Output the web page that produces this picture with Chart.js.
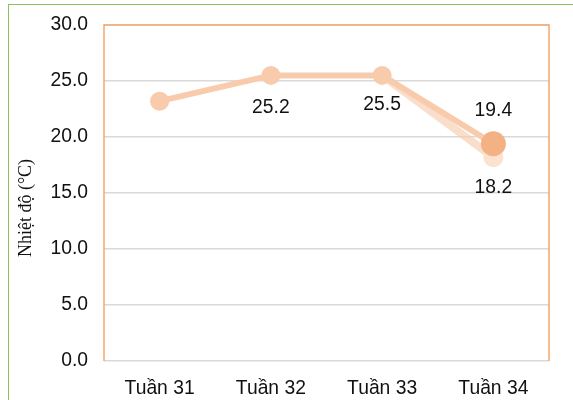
<!DOCTYPE html>
<html><head><meta charset="utf-8">
<script src="https://cdn.jsdelivr.net/npm/chart.js@4/dist/chart.umd.min.js"></script>
<style>
html,body{margin:0;padding:0;background:#fff;overflow:hidden;}
#frame{position:absolute;left:8px;top:4px;width:700px;height:500px;border-left:1.5px solid #8CC063;border-top:1.5px solid #8CC063;}
#wrap{position:absolute;left:0;top:0;width:573px;height:400px;}
</style></head>
<body>
<div id="frame"></div>
<div id="wrap"><canvas id="c" width="573" height="400"></canvas></div>
<script>
const categories = ['Tuần 31', 'Tuần 32', 'Tuần 33', 'Tuần 34'];
const seriesMain = [23.2, 25.5, 25.5, 19.4];
const seriesLow = [23.2, 25.2, 25.5, 18.2];
const yTitle = 'Nhiệt độ (°C)';

const labelPlugin = {
  id: 'labels',
  beforeDatasetsDraw(chart) {
    const {ctx, chartArea: a} = chart;
    ctx.save();
    ctx.strokeStyle = '#F5A66B';
    ctx.lineWidth = 1.5;
    ctx.beginPath();
    ctx.moveTo(a.left, a.bottom);
    ctx.lineTo(a.left, a.top);
    ctx.lineTo(a.right, a.top);
    ctx.lineTo(a.right, a.bottom);
    ctx.stroke();
    ctx.restore();
  },
  afterDatasetsDraw(chart) {
    const {ctx, chartArea: a} = chart;
    const xs = chart.scales.x, ys = chart.scales.y;
    const specs = [
      {data: seriesLow, i: 1, dy: 29},
      {data: seriesLow, i: 2, dy: 29.5},
      {data: seriesLow, i: 3, dy: 30.5},
      {data: seriesMain, i: 3, dy: -33}
    ];
    ctx.save();
    ctx.fillStyle = '#111';
    ctx.font = '19.3px "Liberation Sans", Arial, sans-serif';
    ctx.textAlign = 'center';
    ctx.textBaseline = 'middle';
    specs.forEach(s => {
      const x = xs.getPixelForValue(s.i);
      const y = ys.getPixelForValue(s.data[s.i]);
      ctx.fillText(s.data[s.i].toFixed(1), x, y + s.dy);
    });
    // axis title
    ctx.translate(26, (a.top + a.bottom) / 2 + 15);
    ctx.rotate(-Math.PI / 2);
    ctx.font = '18px "Liberation Serif", "Times New Roman", serif';
    ctx.fillText(yTitle, 0, 0);
    ctx.restore();
  }
};

new Chart(document.getElementById('c'), {
  type: 'line',
  data: {
    labels: categories,
    datasets: [
      {
        data: seriesMain,
        borderColor: '#F8CBAD',
        borderWidth: 6,
        pointRadius: [9.5, 9.5, 9.5, 12.5],
        pointBackgroundColor: ['#F8CBAD', '#F8CBAD', '#F8CBAD', '#F4B183'],
        pointBorderWidth: 0,
        tension: 0
      },
      {
        data: seriesLow,
        borderColor: 'rgba(248,203,173,0.65)',
        borderWidth: 8,
        pointRadius: [0, 0, 0, 10],
        pointBackgroundColor: '#FBE2D1',
        pointBorderWidth: 0,
        segment: {borderColor: c => c.p0DataIndex < 2 ? 'rgba(0,0,0,0)' : undefined},
        tension: 0
      }
    ]
  },
  options: {
    responsive: false,
    animation: false,
    devicePixelRatio: 1,
    layout: {padding: {left: 12, right: 24, top: 25, bottom: 0}},
    plugins: {legend: {display: false}, tooltip: {enabled: false}},
    scales: {
      x: {
        offset: true,
        grid: {display: false, drawTicks: false},
        border: {display: false},
        ticks: {padding: 16, color: '#111', font: {family: '"Liberation Sans", Arial, sans-serif', size: 19.3}},
        afterFit(s) { s.height = 39; s.paddingLeft = 0; s.paddingRight = 0; }
      },
      y: {
        min: 0, max: 30,
        grid: {color: '#D9D9D9', lineWidth: 1.5, drawTicks: false},
        border: {display: false},
        ticks: {stepSize: 5, padding: 16, color: '#111',
          font: {family: '"Liberation Sans", Arial, sans-serif', size: 19.3},
          callback: v => v.toFixed(1)},
        afterFit(s) { s.width = 92; s.paddingTop = 0; s.paddingBottom = 0; }
      }
    }
  },
  plugins: [labelPlugin]
});
</script>
</body></html>
